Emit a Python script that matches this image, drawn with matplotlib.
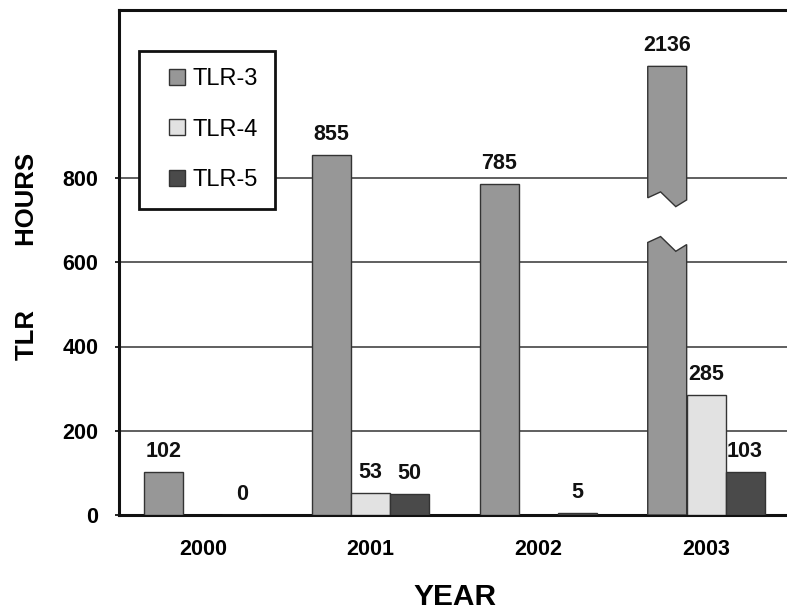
import numpy as np
import matplotlib
matplotlib.use("Agg")
import matplotlib.pyplot as plt
from matplotlib.patches import Polygon, Patch, Rectangle
from matplotlib.legend_handler import HandlerPatch

# ---- data ----
years = ["2000", "2001", "2002", "2003"]
series_names = ["TLR-3", "TLR-4", "TLR-5"]
tlr3 = [102, 855, 785, 2136]
tlr4 = [np.nan, 53, np.nan, 285]
tlr5 = [0, 50, 5, 103]
y_ticks = [0, 200, 400, 600, 800]

# ---- style ----
colors = ["#979797", "#e2e2e2", "#4a4a4a"]
edge = "#333333"
plt.rcParams['font.family'] = ['Liberation Sans', 'DejaVu Sans']
NUM_SIZE = 15.5

AXIS_MAX = 1200          # visible axis range
BREAK_LIMIT = 1000       # values above this get a broken bar
BREAK_TOP = 1065         # displayed height of a broken bar
BREAK_UPPER = 753        # lower edge (left) of upper piece
BREAK_GAP = 106          # vertical gap between pieces
ZIG = [(0.0, 0), (0.33, 14), (0.72, -21), (1.0, -5)]

fig = plt.figure(figsize=(7.87, 6.12), dpi=100)
ax = fig.add_axes([119/787, 97/612, 671/787, 505.5/612])

width = 0.232
x = np.arange(len(years))
offsets = [-width, 0, width]
all_series = [tlr3, tlr4, tlr5]

for s, (vals, off, col) in enumerate(zip(all_series, offsets, colors)):
    for i, v in enumerate(vals):
        if np.isnan(v):
            continue
        x0 = x[i] + off - width/2
        x1 = x0 + width
        if v > BREAK_LIMIT:
            top = BREAK_TOP
            up = [(x0 + fx*width, BREAK_UPPER + dy) for fx, dy in ZIG]
            lo = [(x0 + fx*width, BREAK_UPPER - BREAK_GAP + dy) for fx, dy in ZIG]
            upper_poly = [(x0, top), (x1, top)] + up[::-1]
            lower_poly = [(x0, 0)] + lo + [(x1, 0)]
            for pts in (upper_poly, lower_poly):
                ax.add_patch(Polygon(pts, closed=True, facecolor=col,
                                     edgecolor=edge, linewidth=1.0, zorder=3))
        else:
            top = v
            ax.bar(x[i] + off, v, width=width, color=col, edgecolor=edge,
                   linewidth=1.0, zorder=3)
        ax.annotate(f"{int(v)}", (x[i] + off, top), xytext=(0, 15),
                    textcoords="offset pixels", ha="center", va="baseline",
                    fontsize=NUM_SIZE, fontweight="bold", color="#111111",
                    zorder=4)

ax.set_xlim(-0.5, 3.5)
ax.set_ylim(0, AXIS_MAX)
ax.set_yticks(y_ticks)
ax.set_yticklabels([str(t) for t in y_ticks], fontsize=NUM_SIZE, fontweight="bold")
ax.set_xticks(x)
ax.set_xticklabels(years, fontsize=NUM_SIZE, fontweight="bold")
ax.tick_params(axis="x", length=0, pad=17.5)
ax.tick_params(axis="y", length=3, width=1.2, pad=12, direction="out")

for yv in y_ticks[1:]:
    ax.axhline(yv, color="#444444", linewidth=1.2, zorder=1)

for sp in ["top", "left", "bottom"]:
    ax.spines[sp].set_linewidth(2.2)
    ax.spines[sp].set_color("#111111")
ax.spines["right"].set_visible(False)

ax.set_xlabel("YEAR", fontsize=21.5, fontweight="bold", labelpad=16)
ax.set_ylabel("TLR         HOURS", fontsize=18.5, fontweight="bold", labelpad=17)
ax.yaxis.label.set_y(0.512)

SQ = 16  # legend swatch size in pixels


def square_patch(legend, orig_handle, xdescent, ydescent, width, height, fontsize):
    s = SQ * 72 / fig.dpi
    return Rectangle((-xdescent + width - s, -ydescent + (height - s) / 2), s, s)


handles = [Patch(facecolor=c, edgecolor=edge, linewidth=1.0) for c in colors]
leg = ax.legend(handles, series_names, loc="upper left",
                bbox_to_anchor=(0.0298, 0.918), borderaxespad=0,
                fontsize=17, handlelength=1.22, handleheight=0.7,
                handletextpad=0.3, labelspacing=1.2, borderpad=0.74,
                frameon=True, fancybox=False, framealpha=1,
                handler_map={Patch: HandlerPatch(patch_func=square_patch)})
leg.get_frame().set_edgecolor("#111111")
leg.get_frame().set_linewidth(2.0)
leg.set_zorder(5)

fig.savefig("out.png", dpi=100)
